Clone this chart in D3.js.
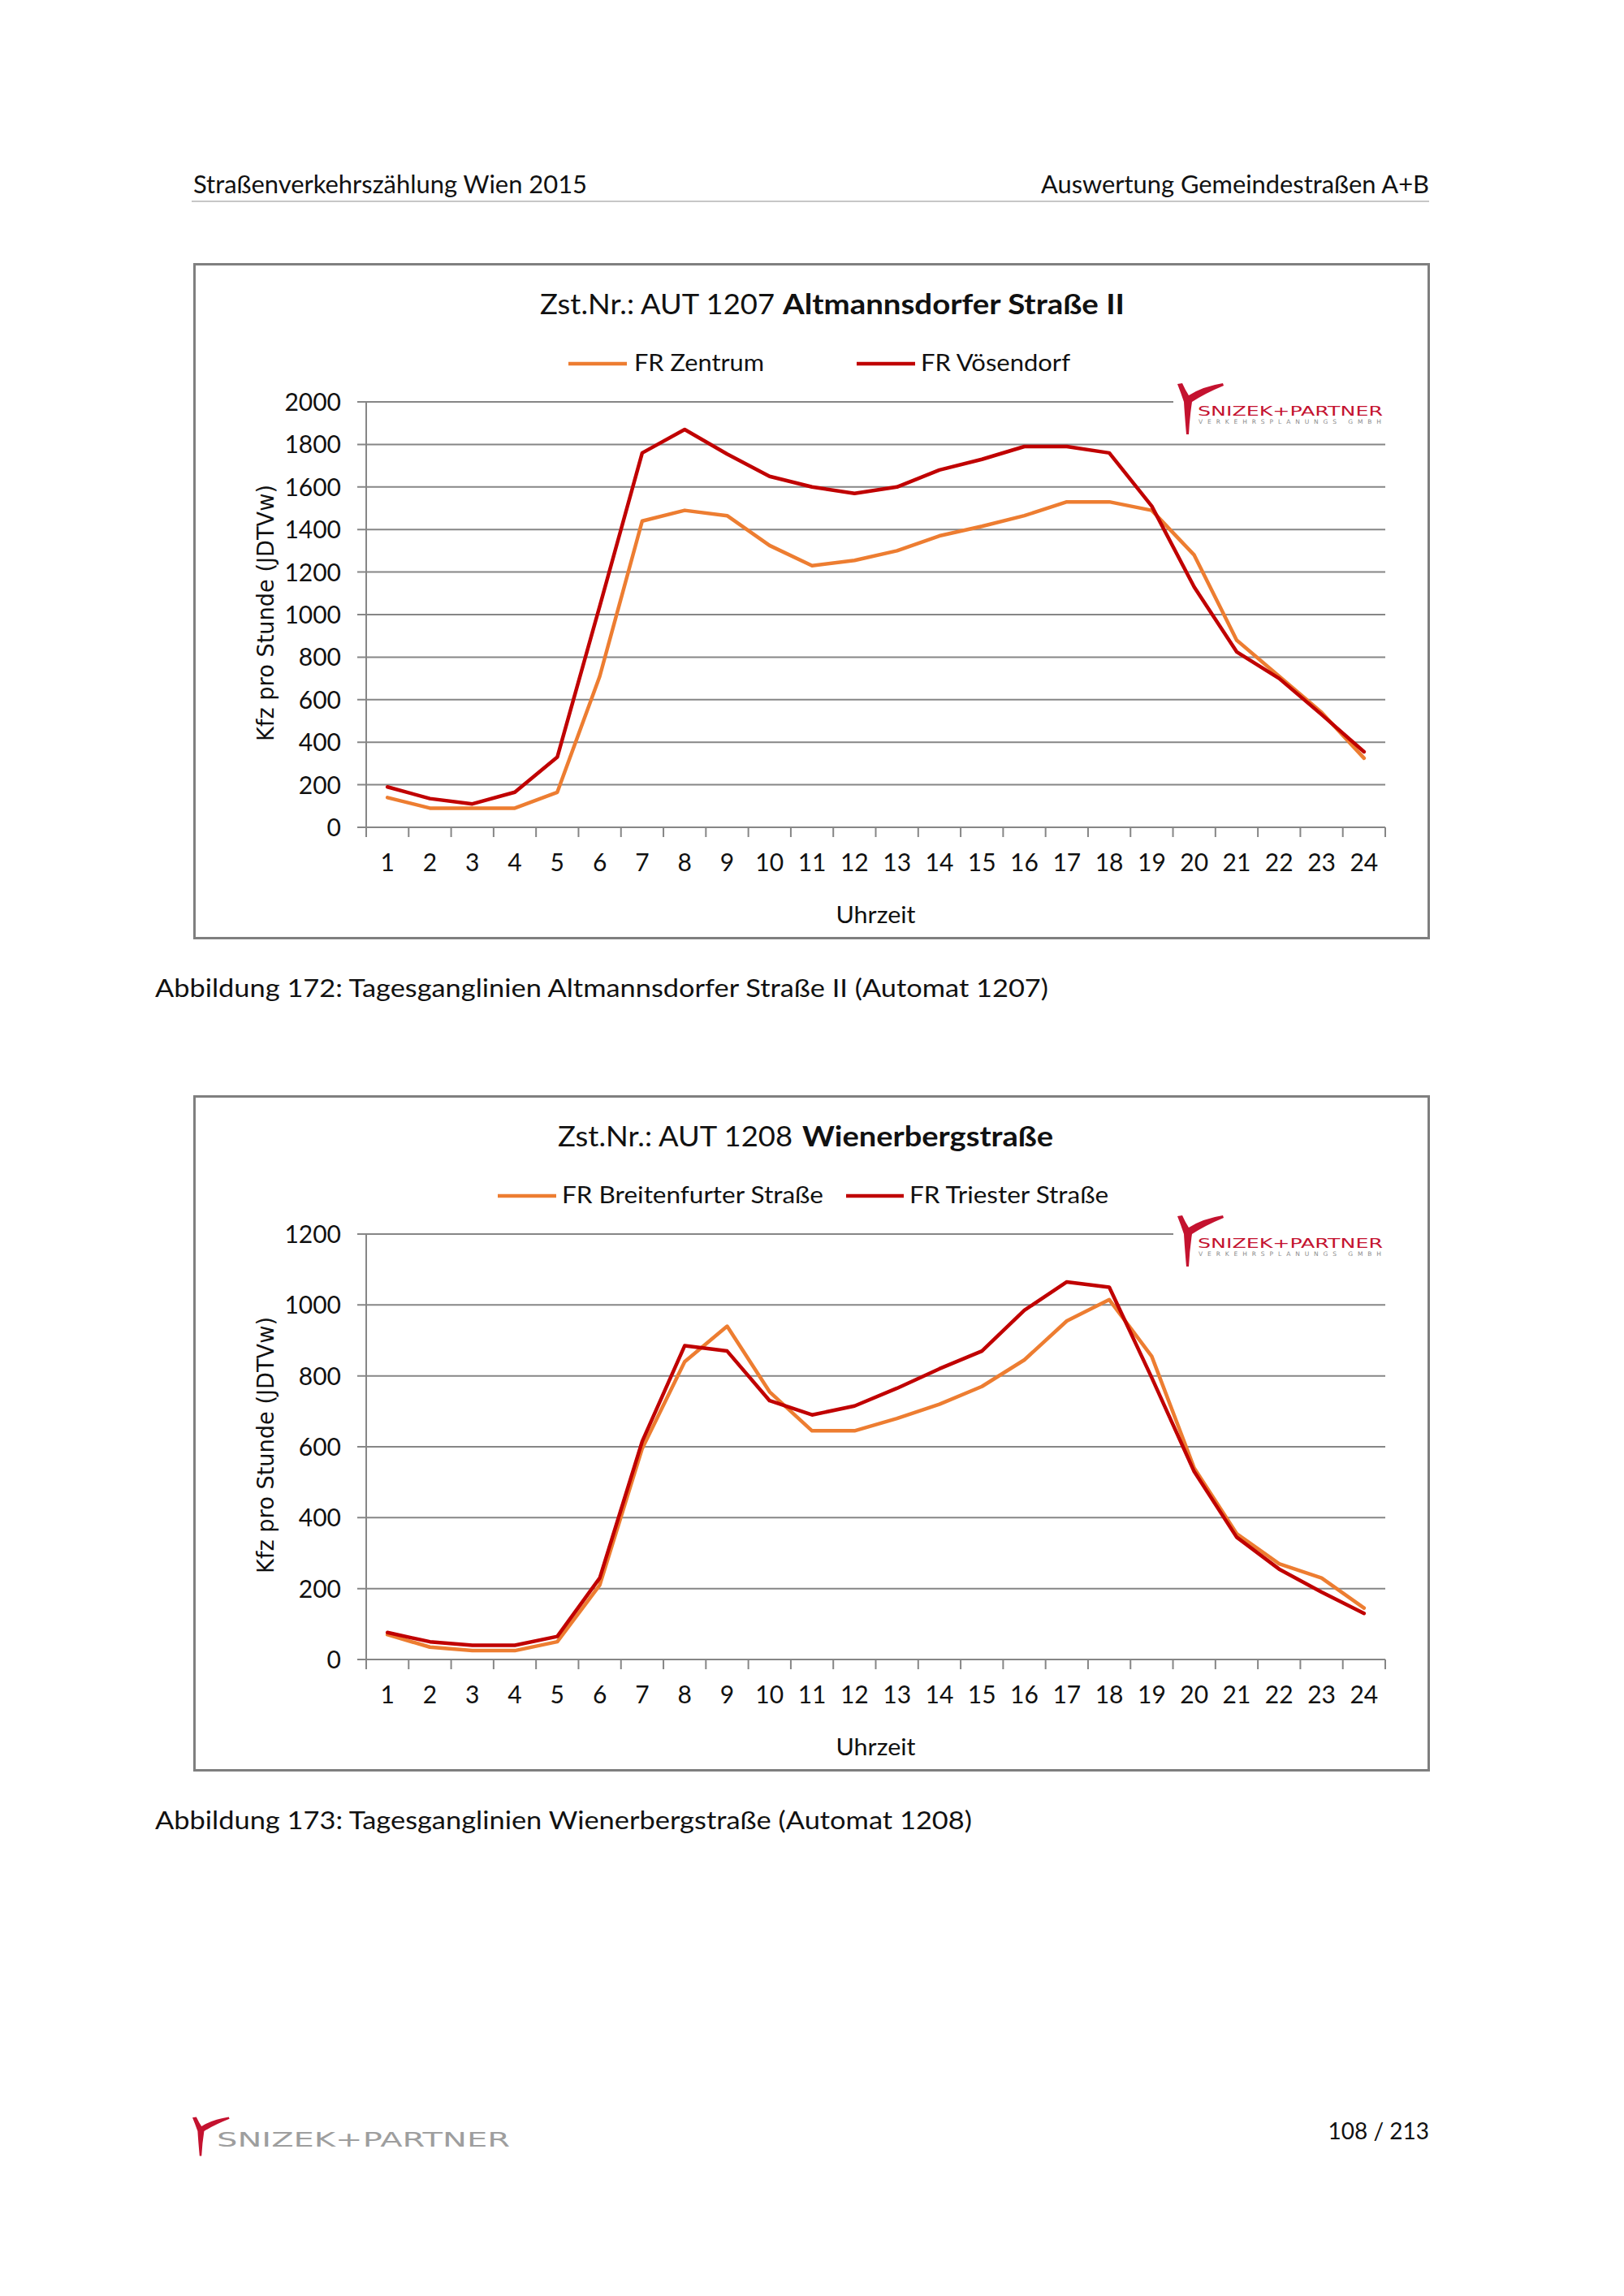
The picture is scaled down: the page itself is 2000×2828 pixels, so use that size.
<!DOCTYPE html>
<html><head><meta charset="utf-8">
<script src="https://cdn.jsdelivr.net/npm/d3@7"></script>
<style>body{margin:0;background:#fff;} svg{display:block;}</style>
</head><body>
<svg id="page" width="2000" height="2828"></svg>
<script>
// ---------- data ----------
const hours = [1,2,3,4,5,6,7,8,9,10,11,12,13,14,15,16,17,18,19,20,21,22,23,24];
const yTicks1 = [0,200,400,600,800,1000,1200,1400,1600,1800,2000];
const yTicks2 = [0,200,400,600,800,1000,1200];
const seriesNames1 = ["FR Zentrum", "FR Vösendorf"];
const zentrum    = [140,90,90,90,165,710,1440,1490,1465,1325,1230,1255,1300,1370,1415,1465,1530,1530,1490,1280,880,710,540,325];
const voesendorf = [190,135,110,165,330,1040,1760,1870,1755,1650,1600,1570,1600,1680,1730,1790,1790,1760,1510,1130,825,700,530,355];
const seriesNames2 = ["FR Breitenfurter Straße", "FR Triester Straße"];
const breitenfurter = [70,35,25,25,50,210,595,840,940,755,645,645,680,720,770,845,955,1015,855,540,355,270,230,145];
const triester      = [76,50,40,40,65,230,615,885,870,730,690,715,765,820,870,985,1065,1050,795,530,345,255,190,130];
const seriesColors = ["#ED7D31", "#C00000"];
const titles1 = ["Zst.Nr.: AUT 1207 ", "Altmannsdorfer Straße II"];
const titles2 = ["Zst.Nr.: AUT 1208 ", "Wienerbergstraße"];
const xTitle = "Uhrzeit";
const yTitle = "Kfz pro Stunde (JDTVw)";
const captions = ["Abbildung 172: Tagesganglinien Altmannsdorfer Straße II (Automat 1207)",
                  "Abbildung 173: Tagesganglinien Wienerbergstraße (Automat 1208)"];

// ---------- page ----------
const svg = d3.select("#page");
const FONT = "Lato, 'Open Sans', 'Noto Sans', sans-serif";
svg.append("rect").attr("width",2000).attr("height",2828).attr("fill","#fff");

// header
svg.append("text").attr("x",238).attr("y",238).attr("font-family",FONT).attr("font-size",30)
  .attr("textLength",485).attr("lengthAdjust","spacingAndGlyphs").attr("fill","#111")
  .text("Straßenverkehrszählung Wien 2015");
svg.append("text").attr("x",1760).attr("y",238).attr("text-anchor","end").attr("font-family",FONT).attr("font-size",30)
  .attr("textLength",478).attr("lengthAdjust","spacingAndGlyphs").attr("fill","#111")
  .text("Auswertung Gemeindestraßen A+B");
svg.append("line").attr("x1",236).attr("x2",1760).attr("y1",248).attr("y2",248)
  .attr("stroke","#b4b4b4").attr("stroke-width",1.5);

const yPath = "M5,3 L11,2 Q15,11 19,17 Q36,6 61,2 L62,5 Q40,14 23,25 Q20,45 19,65 L16,65 Q14,42 13,25 Q9,13 5,3 Z";

function drawLogo(g, tx, ty) {
  const lg = g.append("g").attr("transform", `translate(${tx},${ty})`);
  lg.append("rect").attr("x",0).attr("y",0).attr("width",262).attr("height",66).attr("fill","#fff");
  lg.append("path").attr("d", yPath).attr("fill","#C4122F");
  lg.append("text").attr("x",30).attr("y",42).attr("font-family","'DejaVu Sans', sans-serif").attr("font-size",16.5)
    .attr("textLength",228).attr("lengthAdjust","spacingAndGlyphs").attr("fill","#C4122F").text("SNIZEK+PARTNER");
  lg.append("text").attr("x",31).attr("y",52).attr("font-family","'DejaVu Sans', sans-serif").attr("font-size",7.5)
    .attr("textLength",225).attr("lengthAdjust","spacing").attr("fill","#8c8c8c").text("VERKEHRSPLANUNGS GMBH");
}

function drawChart(cfg) {
  const g = svg.append("g").attr("transform", `translate(0,${cfg.dy})`);
  g.append("rect").attr("x",239.5).attr("y",325.5).attr("width",1520).attr("height",830)
    .attr("fill","#fff").attr("stroke","#7f7f7f").attr("stroke-width",3);

  const x = d3.scaleBand().domain(hours).range([451,1706]).paddingInner(0).paddingOuter(0);
  const y = d3.scaleLinear().domain([0, cfg.yTicks[cfg.yTicks.length-1]]).range([1019,495]);
  const bw = x.bandwidth();

  // gridlines
  g.append("g").selectAll("line").data(cfg.yTicks).join("line")
    .attr("x1",440).attr("x2",1706).attr("y1",d=>y(d)).attr("y2",d=>y(d))
    .attr("stroke","#868686").attr("stroke-width",2);
  // y axis line
  g.append("line").attr("x1",451).attr("x2",451).attr("y1",y.range()[1]).attr("y2",y.range()[0])
    .attr("stroke","#868686").attr("stroke-width",2);
  // y labels
  g.append("g").selectAll("text").data(cfg.yTicks).join("text")
    .attr("x",420).attr("y",d=>y(d)+11).attr("text-anchor","end")
    .attr("font-family",FONT).attr("font-size",30).attr("fill","#111").text(d=>d);
  // x ticks at category boundaries
  const bounds = hours.map(h=>x(h)).concat([x.range()[1]]);
  g.append("g").selectAll("line").data(bounds).join("line")
    .attr("x1",d=>d).attr("x2",d=>d).attr("y1",y(0)).attr("y2",y(0)+12)
    .attr("stroke","#868686").attr("stroke-width",2);
  // x labels
  g.append("g").selectAll("text").data(hours).join("text")
    .attr("x",d=>x(d)+bw/2).attr("y",1073).attr("text-anchor","middle")
    .attr("font-family",FONT).attr("font-size",30).attr("fill","#111").text(d=>d);
  // axis titles
  g.append("text").attr("x",(x.range()[0]+x.range()[1])/2).attr("y",1137).attr("text-anchor","middle")
    .attr("font-family",FONT).attr("font-size",29).attr("textLength",98).attr("lengthAdjust","spacingAndGlyphs")
    .attr("fill","#111").text(xTitle);
  g.append("text").attr("transform","translate(337,755) rotate(-90)").attr("text-anchor","middle")
    .attr("font-family","'DejaVu Sans', Verdana, sans-serif").attr("font-size",29)
    .attr("textLength",316).attr("lengthAdjust","spacingAndGlyphs").attr("fill","#111").text(yTitle);

  // logo (covers part of top gridline)
  drawLogo(g, 1445, 470);

  // series lines
  const line = d3.line().x((d,i)=>x(hours[i])+bw/2).y(d=>y(d));
  cfg.series.forEach((s,i)=>{
    g.append("path").attr("d", line(s)).attr("fill","none").attr("stroke",seriesColors[i])
      .attr("stroke-width",4.5).attr("stroke-linejoin","round").attr("stroke-linecap","round");
  });

  // title
  g.append("text").attr("x",cfg.titleX[0]).attr("y",387).attr("font-family",FONT).attr("font-size",35)
    .attr("textLength",cfg.titleW[0]).attr("lengthAdjust","spacingAndGlyphs").attr("fill","#111").text(cfg.titles[0].trim());
  g.append("text").attr("x",cfg.titleX[1]).attr("y",387).attr("font-family",FONT).attr("font-size",35)
    .attr("font-weight","bold").attr("textLength",cfg.titleW[1]).attr("lengthAdjust","spacingAndGlyphs")
    .attr("fill","#111").text(cfg.titles[1]);

  // legend
  cfg.names.forEach((n,i)=>{
    const L = cfg.legend[i];
    g.append("line").attr("x1",L[0]).attr("x2",L[1]).attr("y1",448).attr("y2",448)
      .attr("stroke",seriesColors[i]).attr("stroke-width",4.5);
    g.append("text").attr("x",L[2]).attr("y",457).attr("font-family",FONT).attr("font-size",28)
      .attr("textLength",L[3]).attr("lengthAdjust","spacingAndGlyphs").attr("fill","#111").text(n);
  });

  // caption
  svg.append("text").attr("x",191).attr("y",1228+cfg.dy).attr("font-family",FONT).attr("font-size",30)
    .attr("textLength",cfg.capW).attr("lengthAdjust","spacingAndGlyphs").attr("fill","#111").text(cfg.caption);
}

drawChart({dy:0, yTicks:yTicks1, series:[zentrum, voesendorf], names:seriesNames1, titles:titles1,
  titleX:[665,964], titleW:[289,421],
  legend:[[700,772,781,160],[1055,1127,1134,184]], caption:captions[0], capW:1100});
drawChart({dy:1025, yTicks:yTicks2, series:[breitenfurter, triester], names:seriesNames2, titles:titles2,
  titleX:[687,988], titleW:[289,309],
  legend:[[613,685,692,322],[1042,1113,1120,245]], caption:captions[1], capW:1006});

// footer
const fy = svg.append("g").attr("transform","translate(233,2606) scale(0.8,0.76)");
fy.append("path").attr("d", yPath).attr("fill","#C4122F");
svg.append("text").attr("x",267).attr("y",2644).attr("font-family","'DejaVu Sans', sans-serif").attr("font-size",24)
  .attr("textLength",361).attr("lengthAdjust","spacingAndGlyphs").attr("fill","#9e9e9e").text("SNIZEK+PARTNER");
svg.append("text").attr("x",1760).attr("y",2635).attr("text-anchor","end").attr("font-family",FONT).attr("font-size",28)
  .attr("fill","#111").text("108 / 213");
</script>
</body></html>
